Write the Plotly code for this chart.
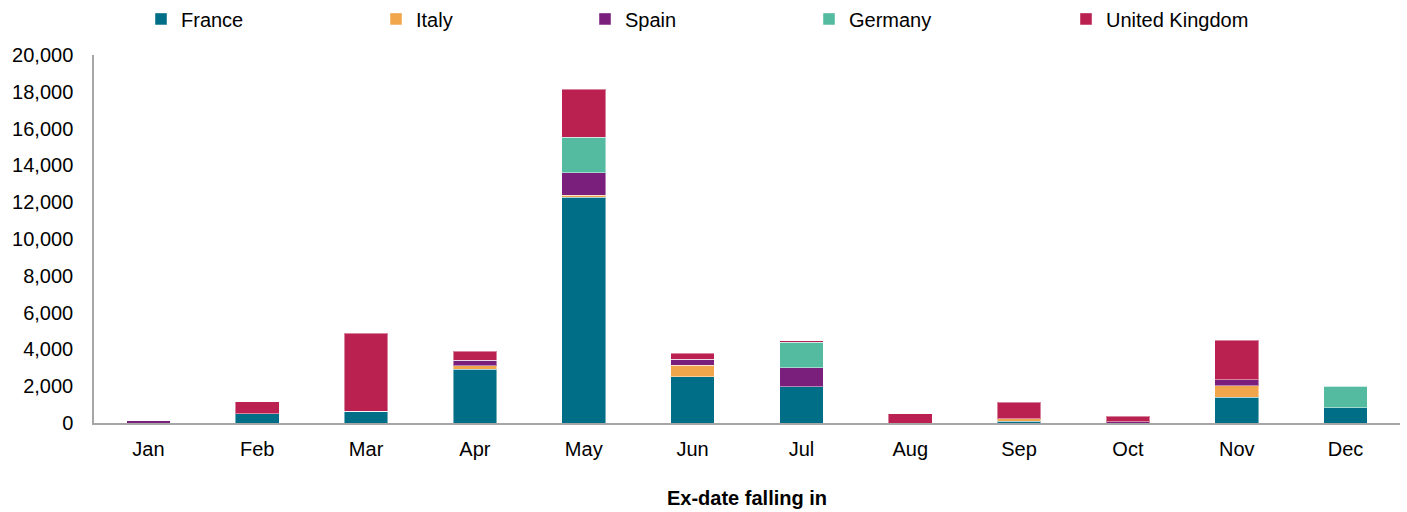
import plotly.graph_objects as go

months = ["Jan", "Feb", "Mar", "Apr", "May", "Jun", "Jul", "Aug", "Sep", "Oct", "Nov", "Dec"]

france = [0, 500, 630, 2930, 12280, 2520, 1970, 0, 90, 0, 1410, 830]
italy = [0, 0, 0, 180, 110, 630, 0, 0, 130, 0, 620, 0]
spain = [120, 0, 0, 310, 1200, 310, 1040, 0, 0, 60, 320, 0]
germany = [0, 0, 0, 0, 1950, 0, 1390, 0, 0, 0, 0, 1180]
united_kingdom = [0, 650, 4240, 480, 2610, 330, 70, 490, 920, 300, 2160, 0]

series = [
    ("France", france, "#006E87"),
    ("Italy", italy, "#F2A64C"),
    ("Spain", spain, "#7A1F7C"),
    ("Germany", germany, "#55BBA0"),
    ("United Kingdom", united_kingdom, "#BA2050"),
]

# left edge of each legend entry, in pixels from the left of the page
legend_px = [141, 376, 585, 809, 1066]

PLOT_LEFT, PLOT_RIGHT = 94, 1400
PLOT_W = PLOT_RIGHT - PLOT_LEFT
FONT = "Liberation Sans, Arial"

fig = go.Figure()
layout_legends = {}
for i, (name, vals, color) in enumerate(series):
    key = "legend" if i == 0 else f"legend{i + 1}"
    fig.add_trace(go.Bar(
        x=months, y=vals, name=name,
        marker=dict(color=color, line=dict(color="rgba(255,255,255,0.45)", width=1)),
        legend=key,
    ))
    layout_legends[key] = dict(
        x=(legend_px[i] - PLOT_LEFT) / PLOT_W, xanchor="left",
        y=1.098, yanchor="middle", orientation="h",
        font=dict(family=FONT, size=20, color="#000000"),
        bgcolor="rgba(0,0,0,0)", borderwidth=0,
    )

fig.update_layout(
    barmode="stack",
    bargap=0.6,
    width=1407, height=512,
    margin=dict(l=PLOT_LEFT, r=1407 - PLOT_RIGHT, t=55, b=89, autoexpand=False),
    paper_bgcolor="white", plot_bgcolor="white",
    font=dict(family=FONT, size=20, color="#000000"),
    showlegend=True,
    **layout_legends,
)

fig.update_xaxes(
    showgrid=False, showline=True, linecolor="#A6A6A6", linewidth=1.5,
    ticks="", tickfont=dict(size=20), ticklabelstandoff=7,
    title=dict(text="<b>Ex-date falling in</b>", font=dict(size=20), standoff=32),
)
fig.update_yaxes(
    range=[0, 20000], dtick=2000, tickformat=",d",
    showgrid=False, showline=True, linecolor="#A6A6A6", linewidth=1.5,
    ticks="", tickfont=dict(size=20), ticklabelstandoff=15,
    zeroline=False,
)

fig.write_html("out.html")
